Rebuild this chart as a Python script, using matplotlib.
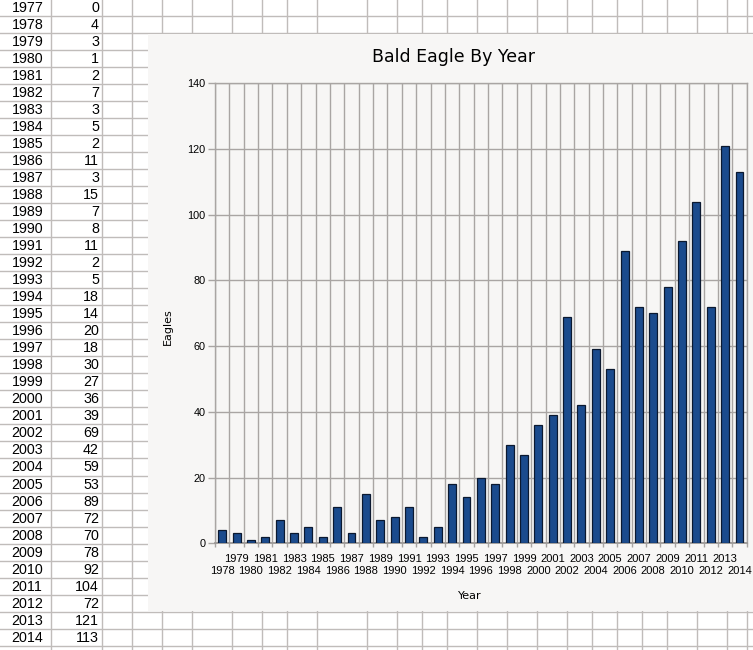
import numpy as np
import matplotlib
matplotlib.use('Agg')
from matplotlib import pyplot as plt
from matplotlib.patches import Rectangle

# spreadsheet data (column A / column B)
sheet_years = [1977, 1978, 1979, 1980, 1981, 1982, 1983, 1984, 1985, 1986,
               1987, 1988, 1989, 1990, 1991, 1992, 1993, 1994, 1995, 1996,
               1997, 1998, 1999, 2000, 2001, 2002, 2003, 2004, 2005, 2006,
               2007, 2008, 2009, 2010, 2011, 2012, 2013, 2014]
sheet_eagles = [0, 4, 3, 1, 2, 7, 3, 5, 2, 11,
                3, 15, 7, 8, 11, 2, 5, 18, 14, 20,
                18, 30, 27, 36, 39, 69, 42, 59, 53, 89,
                72, 70, 78, 92, 104, 72, 121, 113]

# chart uses 1978..2014
chart_years = sheet_years[1:]
chart_eagles = sheet_eagles[1:]

W, H = 753, 650
fig = plt.figure(figsize=(W / 100, H / 100), dpi=100)
fig.patch.set_facecolor('white')

# background spreadsheet grid, in pixel coords
bg = fig.add_axes([0, 0, 1, 1])
bg.set_xlim(0, W)
bg.set_ylim(H, 0)
bg.axis('off')

col_lines = [51.5, 101.7, 131.7, 161.7, 191.7, 231.7, 261.7, 286.7, 316.7,
             366.7, 396.7, 421.7, 446.7, 476.7, 506.7, 536.7, 566.7, 591.7,
             616.7, 641.7, 666.7, 696.7, 726.7, 746.7]
row_h = 17.03
row0 = 15.7
cell_line = '#c0bcba'
for xl in col_lines:
    bg.plot([xl, xl], [0, H], color=cell_line, lw=1, zorder=1)
for k in range(40):
    y = row0 + row_h * k
    bg.plot([0, W], [y, y], color=cell_line, lw=1, zorder=1)

for k, (yr, n) in enumerate(zip(sheet_years, sheet_eagles)):
    yc = row0 + row_h * (k - 0.5) + 0.5
    bg.text(11.5, yc, str(yr), ha='left', va='center', fontsize=10.3,
            family='Liberation Sans', color='black', zorder=2)
    bg.text(99, yc, str(n), ha='right', va='center', fontsize=10.3,
            family='Liberation Sans', color='black', zorder=2)

# chart object background
chart_bg = '#f7f6f5'
bg.add_patch(Rectangle((148, 33.6), W, 611 - 33.6, facecolor=chart_bg,
                       edgecolor='none', zorder=3))

# plot area
left, right, top, bottom = 215, 746.7, 83.3, 543.3
ax = fig.add_axes([left / W, 1 - bottom / H, (right - left) / W, (bottom - top) / H])
ax.set_facecolor(chart_bg)

grid_c = '#a9a5a3'
x = np.arange(len(chart_years))
ax.bar(x, chart_eagles, width=0.55, color='#1b4b8d', edgecolor='#0b1930',
       linewidth=0.9, zorder=3)

ax.set_xlim(-0.5, len(chart_years) - 0.5)
ax.set_ylim(0, 140)
ax.set_yticks(range(0, 141, 20))
ax.yaxis.grid(True, color=grid_c, lw=1, zorder=0)

# odd years on the upper label row, even years on the lower one
ax.set_xticks(x[1::2])
ax.set_xticklabels([str(yr) for yr in chart_years[1::2]], fontsize=8,
                   family='Liberation Sans')
ax.set_xticks(np.arange(-0.5, len(chart_years)), minor=True)
ax.xaxis.grid(True, which='minor', color=grid_c, lw=1, zorder=0)
ax.tick_params(axis='x', which='major', length=0, pad=7.6)
ax.tick_params(axis='x', which='minor', length=3, color=grid_c, width=1)

sec = ax.secondary_xaxis('bottom')
sec.set_xticks(x[0::2])
sec.set_xticklabels([str(yr) for yr in chart_years[0::2]], fontsize=8,
                    family='Liberation Sans')
sec.tick_params(axis='x', length=0, pad=16.2)
sec.spines['bottom'].set_visible(False)

ax.tick_params(axis='y', length=5, color=grid_c, width=1, pad=2,
               labelsize=7.8)
for t in ax.get_yticklabels():
    t.set_family('Liberation Sans')

for side in ['left', 'right', 'top']:
    ax.spines[side].set_color(grid_c)
    ax.spines[side].set_linewidth(1)
ax.spines['bottom'].set_color('#9c9896')
ax.spines['bottom'].set_linewidth(1.3)

fig.text(454 / W, 1 - 57 / H, 'Bald Eagle By Year', ha='center', va='center',
         fontsize=12.5, family='DejaVu Sans')
fig.text(168 / W, 1 - 327 / H, 'Eagles', ha='center', va='center',
         rotation=90, fontsize=8, family='DejaVu Sans')
fig.text(469.5 / W, 1 - 596 / H, 'Year', ha='center', va='center',
         fontsize=8, family='DejaVu Sans')

fig.savefig('out.png', dpi=100, facecolor='white')
